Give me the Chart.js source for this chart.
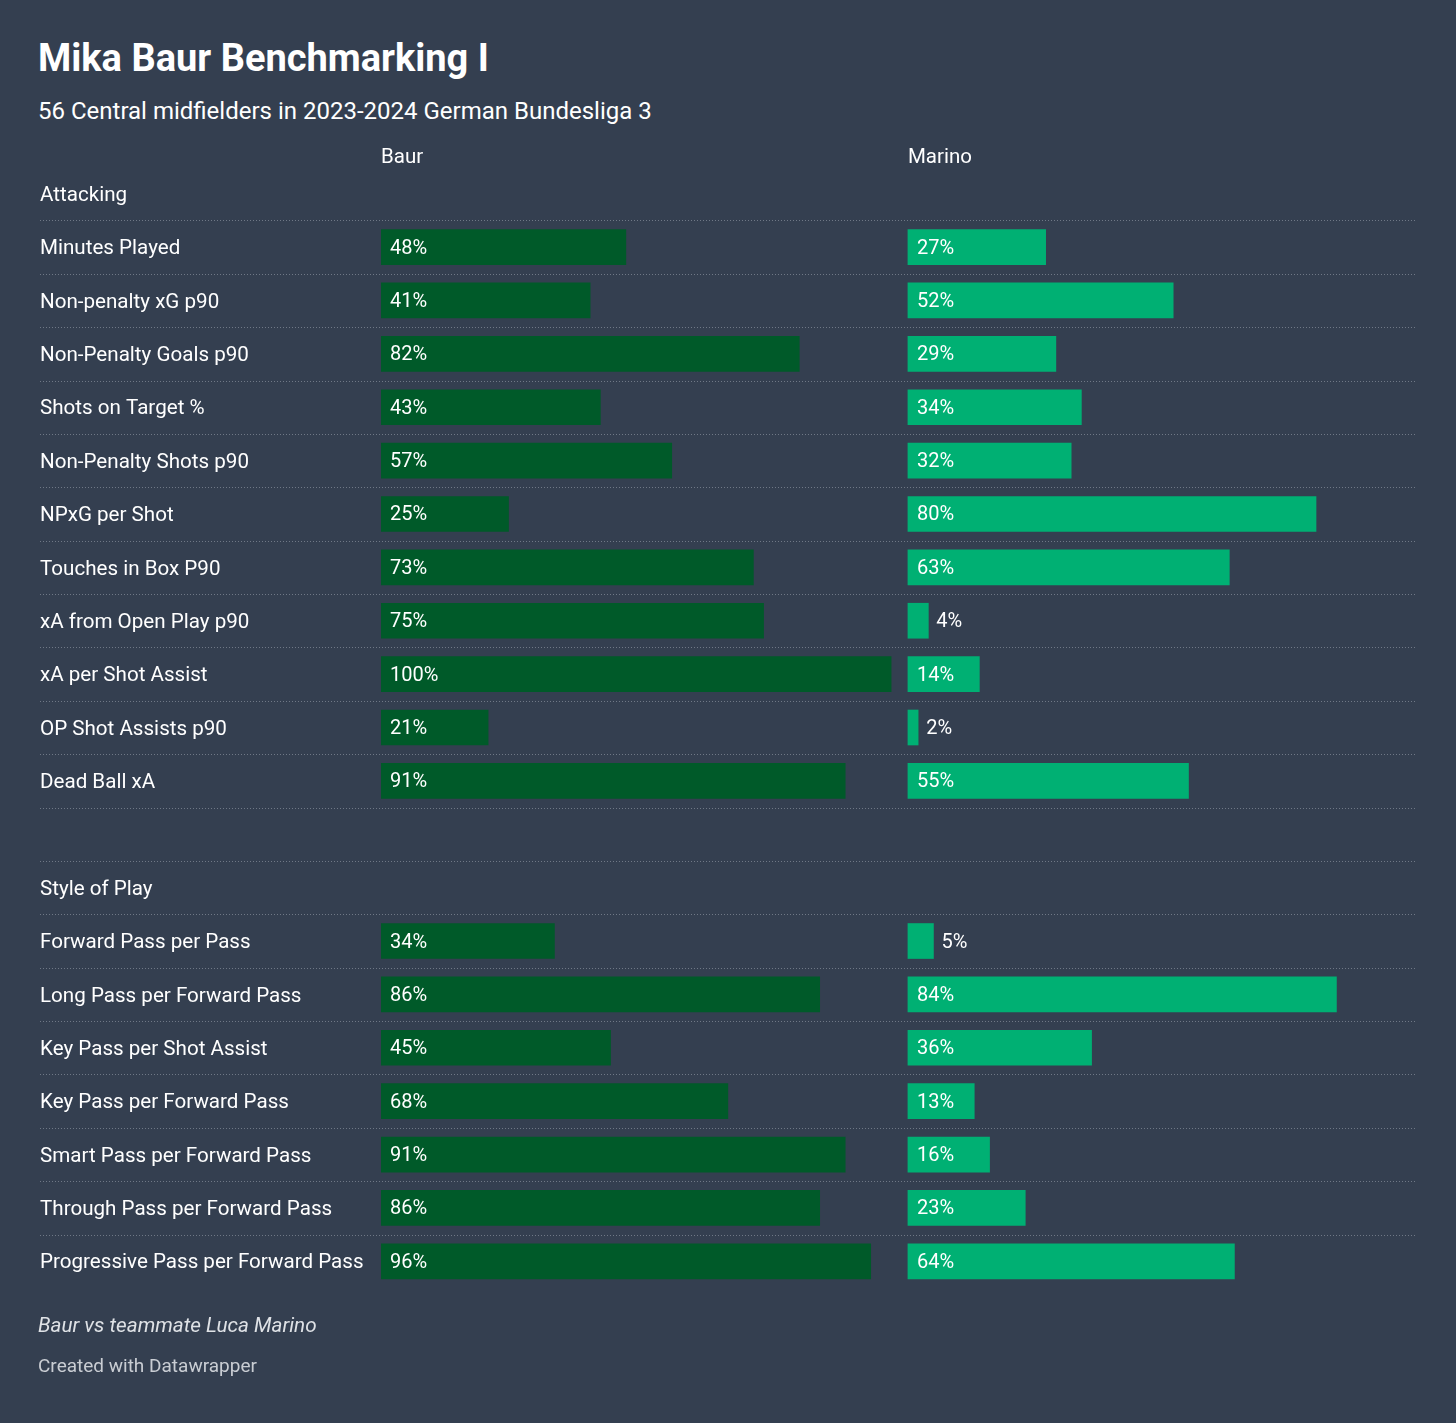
<!DOCTYPE html>
<html>
<head>
<meta charset="utf-8">
<script src="https://cdn.jsdelivr.net/npm/chart.js@4/dist/chart.umd.min.js"></script>
<style>
  html, body { margin: 0; padding: 0; background: #343f50; }
  body { width: 1456px; height: 1423px; position: relative; overflow: hidden; font-family: Roboto, "Noto Sans", sans-serif; }
  #title { position: absolute; left: 38px; top: 36px; font-size: 38px; font-weight: 700; color: #ffffff; white-space: nowrap; }
  #subtitle { position: absolute; left: 38px; top: 97px; font-size: 24px; color: #ffffff; white-space: nowrap; }
  #note { position: absolute; left: 38px; top: 1313px; font-size: 20.7px; font-style: italic; color: #dfe2e6; white-space: nowrap; }
  #credit { position: absolute; left: 38px; top: 1354px; font-size: 19px; color: #c9cdd3; white-space: nowrap; }
  #wrap { position: absolute; left: 0; top: 0; width: 1456px; height: 1423px; }
</style>
</head>
<body>
<div id="title">Mika Baur Benchmarking I</div>
<div id="subtitle">56 Central midfielders in 2023-2024 German Bundesliga 3</div>
<div id="wrap"><canvas id="c"></canvas></div>
<div id="note">Baur vs teammate Luca Marino</div>
<div id="credit">Created with Datawrapper</div>
<script>
// ---- data ----
const rowLabels = [
  'Attacking',
  'Minutes Played', 'Non-penalty xG p90', 'Non-Penalty Goals p90', 'Shots on Target %',
  'Non-Penalty Shots p90', 'NPxG per Shot', 'Touches in Box P90', 'xA from Open Play p90',
  'xA per Shot Assist', 'OP Shot Assists p90', 'Dead Ball xA',
  '',
  'Style of Play',
  'Forward Pass per Pass', 'Long Pass per Forward Pass', 'Key Pass per Shot Assist',
  'Key Pass per Forward Pass', 'Smart Pass per Forward Pass', 'Through Pass per Forward Pass',
  'Progressive Pass per Forward Pass'
];
const columnNames = ['Baur', 'Marino'];
const baurValues = [null, 48, 41, 82, 43, 57, 25, 73, 75, 100, 21, 91, null, null, 34, 86, 45, 68, 91, 86, 96];
const marinoValues = [null, 27, 52, 29, 34, 32, 80, 63, 4, 14, 2, 55, null, null, 5, 84, 36, 13, 16, 23, 64];

// ---- layout constants ----
const MARINO_OFFSET = 103.3;  // where the second column starts, in axis units
const X_MAX = 202.9;
const BAUR_COLOR = '#005a29';
const MARINO_COLOR = '#00b073';
const LABEL_FONT = '20px Roboto, "Noto Sans", sans-serif';

const overlayPlugin = {
  id: 'overlay',
  beforeDatasetsDraw(chart) {
    const ctx = chart.ctx;
    const y = chart.scales.y;
    ctx.save();
    ctx.strokeStyle = '#6f7886';
    ctx.lineWidth = 1;
    ctx.setLineDash([1, 2]);
    for (let i = 0; i < rowLabels.length - 1; i++) {
      const yy = Math.round((y.getPixelForValue(i) + y.getPixelForValue(i + 1)) / 2) + 0.5;
      ctx.beginPath();
      ctx.moveTo(40, yy);
      ctx.lineTo(chart.chartArea.right, yy);
      ctx.stroke();
    }
    ctx.restore();
  },
  afterDatasetsDraw(chart) {
    const ctx = chart.ctx;
    const x = chart.scales.x;
    const y = chart.scales.y;
    ctx.save();
    ctx.font = '20.5px Roboto, "Noto Sans", sans-serif';
    ctx.fillStyle = '#ffffff';
    ctx.textBaseline = 'middle';
    ctx.textAlign = 'left';
    const hy = y.getPixelForValue(0) - 35.5;
    ctx.fillText(columnNames[0], x.getPixelForValue(0), hy);
    ctx.fillText(columnNames[1], x.getPixelForValue(MARINO_OFFSET), hy);

    ctx.font = LABEL_FONT;
    chart.data.datasets.forEach((ds, di) => {
      const meta = chart.getDatasetMeta(di);
      const vals = di === 0 ? baurValues : marinoValues;
      meta.data.forEach((el, i) => {
        const v = vals[i];
        if (v == null) return;
        const txt = v + '%';
        const w = ctx.measureText(txt).width;
        const barW = Math.abs(el.x - el.base);
        if (barW >= w + 18) {
          ctx.fillText(txt, el.base + 9, el.y + 1.5);
        } else {
          ctx.fillText(txt, el.x + 8, el.y + 1.5);
        }
      });
    });
    ctx.restore();
  }
};

new Chart(document.getElementById('c'), {
  type: 'bar',
  data: {
    labels: rowLabels,
    datasets: [
      {
        label: columnNames[0],
        data: baurValues,
        backgroundColor: BAUR_COLOR,
        barThickness: 35,
        grouped: false,
        borderWidth: 0
      },
      {
        label: columnNames[1],
        data: marinoValues.map(v => v == null ? null : [MARINO_OFFSET, MARINO_OFFSET + v]),
        backgroundColor: MARINO_COLOR,
        barThickness: 35,
        grouped: false,
        borderWidth: 0
      }
    ]
  },
  options: {
    indexAxis: 'y',
    responsive: true,
    maintainAspectRatio: false,
    animation: false,
    layout: { padding: { left: 40, right: 40, top: 167, bottom: 135 } },
    plugins: {
      legend: { display: false },
      tooltip: { enabled: false }
    },
    scales: {
      x: {
        type: 'linear',
        min: 0,
        max: X_MAX,
        display: false
      },
      y: {
        type: 'category',
        offset: true,
        grid: { display: false, drawTicks: false },
        border: { display: false },
        afterFit(scale) { scale.width = 341; },
        ticks: {
          crossAlign: 'far',
          padding: 0,
          labelOffset: 2,
          color: '#ffffff',
          font: { family: 'Roboto, "Noto Sans", sans-serif', size: 20.6 },
          autoSkip: false
        }
      }
    }
  },
  plugins: [overlayPlugin]
});
</script>
</body>
</html>
